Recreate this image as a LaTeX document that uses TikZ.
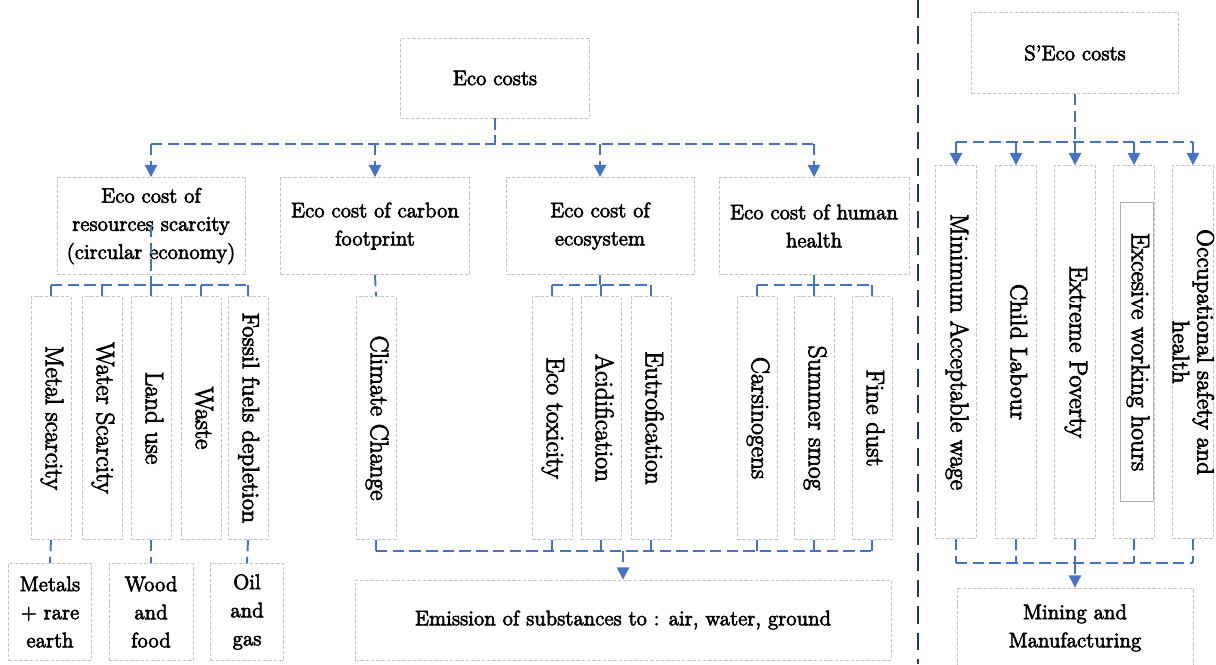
\documentclass[tikz,border=0pt]{standalone}
\usepackage{fontspec}
\setmainfont{Latin Modern Roman}[FakeBold=3]
\usetikzlibrary{arrows.meta}
\definecolor{linkblue}{HTML}{4472C4}
\definecolor{navyline}{HTML}{1F3864}
\newcommand{\vlabel}[1]{\rotatebox{-90}{\begin{tabular}{@{}c@{}}#1\end{tabular}}}

\begin{document}
\begin{tikzpicture}[x=0.02cm, y=-0.02cm,
    box/.style={draw=gray!45, dash pattern=on 2pt off 1pt, line width=0.5pt, inner sep=2pt, align=center, font=\fontsize{12}{16}\selectfont},
    vbox/.style={box, minimum width=0.8cm, minimum height=4.86cm, font=\fontsize{14.5}{15}\selectfont},
    sbox/.style={box, minimum width=0.82cm, minimum height=7.46cm, font=\fontsize{14.5}{15}\selectfont},
    link/.style={draw=linkblue, line width=1.1pt, dash pattern=on 6.5pt off 3pt},
    arrowlink/.style={link, -{Triangle[width=7pt,length=7pt]}},
    divider/.style={draw=navyline, line width=1.2pt, dash pattern=on 10pt off 5pt}]
    \useasboundingbox (0,0) rectangle (1216,664);

    % Eco costs
    \node[box, minimum width=3.78cm, minimum height=1.6cm] (eco) at (495,78) {Eco costs};

    % Four eco cost groups
    \node[box, minimum width=3.76cm, minimum height=1.94cm] (resource) at (151,226) {Eco cost of\\resources scarcity\\(circular economy)};
    \node[box, minimum width=3.78cm, minimum height=1.94cm] (carbon) at (375,226) {Eco cost of carbon\\footprint};
    \node[box, minimum width=3.76cm, minimum height=1.94cm] (ecosys) at (600,226) {Eco cost of\\ecosystem};
    \node[box, minimum width=3.8cm, minimum height=1.94cm] (health) at (814,226) {Eco cost of human\\health};

    % Resources scarcity
    \node[vbox] (metal) at (51,418) {\vlabel{Metal scarcity}};
    \node[vbox] (water) at (102,418) {\vlabel{Water Scarcity}};
    \node[vbox] (land) at (151,418) {\vlabel{Land use}};
    \node[vbox] (waste) at (201,418) {\vlabel{Waste}};
    \node[vbox, font=\fontsize{13.5}{15}\selectfont] (fossil) at (248,418) {\vlabel{Fossil fuels depletion}};

    \node[box, minimum width=1.66cm, minimum height=1.94cm] (metals) at (50,612) {Metals\\+ rare\\earth};
    \node[box, minimum width=1.68cm, minimum height=1.94cm] (wood) at (151,612) {Wood\\and\\food};
    \node[box, minimum width=1.46cm, minimum height=1.94cm] (oil) at (247,612) {Oil\\and\\gas};

    % Carbon, ecosystem, human health
    \node[vbox] (climate) at (376,418) {\vlabel{Climate Change}};
    \node[vbox] (ecotox) at (552,418) {\vlabel{Eco toxicity}};
    \node[vbox] (acid) at (601,418) {\vlabel{Acidification}};
    \node[vbox] (eutro) at (651,418) {\vlabel{Eutrofication}};
    \node[vbox] (carsin) at (757,418) {\vlabel{Carsinogens}};
    \node[vbox] (smog) at (814,418) {\vlabel{Summer smog}};
    \node[vbox] (dust) at (872,418) {\vlabel{Fine dust}};

    \node[box, minimum width=10.72cm, minimum height=1.6cm] (emission) at (623,620) {Emission of substances to : air, water, ground};

    % S'Eco costs
    \node[box, minimum width=4.14cm, minimum height=1.62cm] (seco) at (1075,53) {S'Eco costs};
    \node[sbox] (minimum) at (956,352) {\vlabel{Minimum Acceptable wage}};
    \node[sbox, font=\fontsize{13.5}{15}\selectfont] (child) at (1016,352) {\vlabel{Child Labour}};
    \node[sbox] (poverty) at (1075,352) {\vlabel{Extreme Poverty}};
    \node[sbox] (excess) at (1134,352) {};
    \node[box, draw=gray!60, solid, minimum width=0.66cm, minimum height=5.98cm, font=\fontsize{14.5}{15}\selectfont] (excesstext) at (1137,352) {\vlabel{Excesive working hours}};
    \node[sbox] (occup) at (1193,352) {};
    \node[font=\fontsize{13.5}{14}\selectfont, inner sep=0pt] (occuptext) at (1190,352) {\vlabel{Occupational safety and\\health}};

    \node[box, minimum width=4.72cm, minimum height=1.6cm] (mining) at (1075,628) {Mining and\\Manufacturing};

    % Eco costs connectors
    \coordinate (busA) at (495,144);
    \draw[link] (eco.south) -- (busA);
    \draw[link] (resource.north |- busA) -- (health.north |- busA);
    \foreach \n in {resource,carbon,ecosys,health}
        \draw[arrowlink] (\n.north |- busA) -- (\n.north);

    \coordinate (busR) at (151,285);
    \draw[link] (resource.center) -- (busR);
    \draw[link] (metal.north |- busR) -- (fossil.north |- busR);
    \foreach \n in {metal,water,land,waste,fossil}
        \draw[link] (\n.north |- busR) -- (\n.north);
    \draw[link] (metal.south) -- (metals.north);
    \draw[link] (land.south) -- (wood.north);
    \draw[link] (fossil.south) -- (oil.north);

    \draw[link] (carbon.south) -- (climate.north);

    \coordinate (busE) at (600,285);
    \draw[link] (ecosys.south) -- (busE);
    \draw[link] (ecotox.north |- busE) -- (eutro.north |- busE);
    \foreach \n in {ecotox,acid,eutro}
        \draw[link] (\n.north |- busE) -- (\n.north);

    \coordinate (busH) at (814,285);
    \draw[link] (health.south) -- (busH);
    \draw[link] (carsin.north |- busH) -- (dust.north |- busH);
    \foreach \n in {carsin,smog,dust}
        \draw[link] (\n.north |- busH) -- (\n.north);

    \coordinate (busS) at (622,551);
    \draw[link] (climate.south |- busS) -- (dust.south |- busS);
    \foreach \n in {climate,ecotox,acid,eutro,carsin,smog,dust}
        \draw[link] (\n.south) -- (\n.south |- busS);
    \draw[arrowlink] (emission.north |- busS) -- (emission.north);

    % S'Eco costs connectors
    \coordinate (busT) at (1075,142);
    \draw[link] (seco.south) -- (busT);
    \draw[link] (minimum.north |- busT) -- (occup.north |- busT);
    \foreach \n in {minimum,child,poverty,excess,occup}
        \draw[arrowlink] (\n.north |- busT) -- (\n.north);

    \coordinate (busM) at (1075,563);
    \draw[link] (minimum.south |- busM) -- (occup.south |- busM);
    \foreach \n in {minimum,child,poverty,excess,occup}
        \draw[link] (\n.south) -- (\n.south |- busM);
    \draw[arrowlink] (mining.north |- busM) -- (mining.north);

    % Divider
    \draw[divider] (918,0) -- (918,664);
\end{tikzpicture}
\end{document}
